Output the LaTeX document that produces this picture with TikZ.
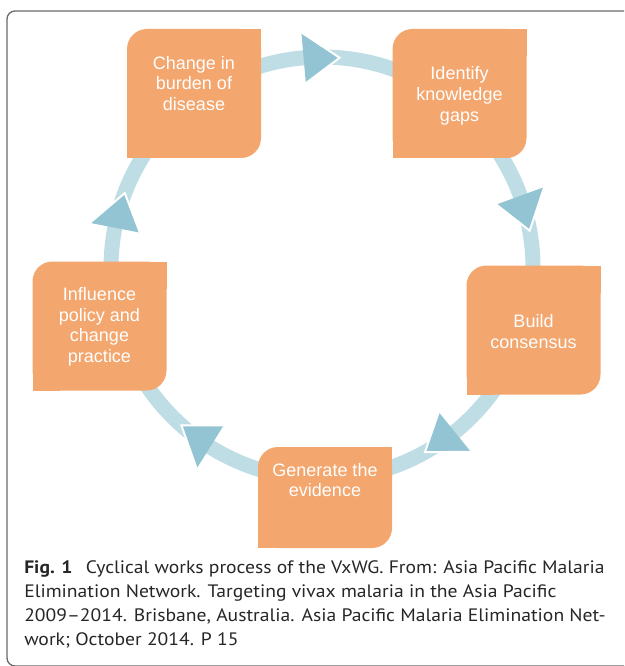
\documentclass[tikz,border=0pt]{standalone}
\usepackage{fontspec}
\setmainfont{Liberation Sans}
\newfontfamily\captionfont[FakeStretch=1.09]{PT Sans}
\usetikzlibrary{calc}

\definecolor{stageorange}{RGB}{243,166,110}
\definecolor{ringblue}{RGB}{190,221,229}
\definecolor{tipblue}{RGB}{147,196,211}
\definecolor{framegray}{RGB}{105,105,105}

\tikzset{
  stagefill/.style={fill=stageorange},
  stagetext/.style={text=white, align=center, inner sep=0pt,
    font=\fontsize{13.5}{15.5}\selectfont},
  ringband/.style={draw=ringblue, line width=11.25pt},
  tiphead/.style={fill=tipblue},
  tipedge/.style={draw=white, line width=1.5pt, line join=miter},
  captiontext/.style={align=left, inner sep=0pt, text=black!85,
    font=\captionfont\fontsize{13.5}{18}\selectfont}
}

\begin{document}
\begin{tikzpicture}[x=0.75pt, y=-0.75pt]
  \useasboundingbox (0,0) rectangle (624,666);
  \clip (0,0) rectangle (624,666);
  % frame
  \draw[framegray, line width=1pt, rounded corners=6pt] (7,11) rectangle (660,666);

  % ring
  \coordinate (hub) at (322,268);
  \draw[ringband] (hub) circle[radius=158.25pt];

  % stages
  \foreach \name/\cx/\cy/\hh/\dy/\txt in {
      burden/194/93.5/64.5/-10/{Change in\\burden of\\disease},
      gaps/459.5/93.5/64.5/2.5/{Identify\\knowledge\\gaps},
      consensus/533.5/330/64.5/1.5/{Build\\consensus},
      evidence/325/497.5/50.5/-17.5/{Generate the\\evidence},
      policy/99.5/326/64.5/1/{Influence\\policy and\\change\\practice}}{
    \fill[stagefill, rounded corners=15pt] (\cx-67,\cy-\hh) rectangle (\cx+67,\cy+\hh);
    \fill[stagefill] (\cx+67,\cy-\hh) rectangle (\cx+40,\cy-\hh+27);
    \fill[stagefill] (\cx-67,\cy+\hh) rectangle (\cx-40,\cy+\hh-27);
    \node[stagetext] (\name) at (\cx,\cy+\dy) {\txt};
  }

  % arrow heads on the ring
  \foreach \a in {265,340,51,122,191}{
    \fill[tiphead] ($(hub)+(\a:185.5)$) -- ($(hub)+(\a+9.8:211)$) -- ($(hub)+(\a:236.5)$) -- cycle;
    \draw[tipedge] ($(hub)+(\a:185.5)$) -- ($(hub)+(\a+9.8:211)$) -- ($(hub)+(\a:236.5)$);
  }

  % caption
  \node[captiontext, anchor=base west] (caption) at (24,645)
    {\textbf{Fig. 1}\hspace{0.45em} Cyclical works process of the VxWG. From: Asia Pacific Malaria\\
     Elimination Network. Targeting vivax malaria in the Asia Pacific\\
     2009–2014. Brisbane, Australia. Asia Pacific Malaria Elimination Net-\\
     work; October 2014. P 15};
\end{tikzpicture}
\end{document}
